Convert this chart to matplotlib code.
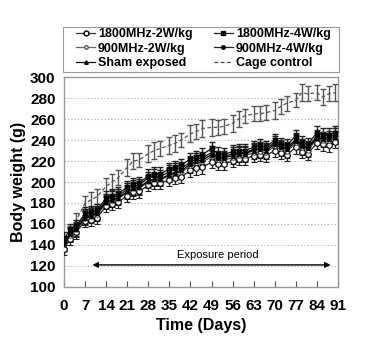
import matplotlib
matplotlib.use("Agg")
import matplotlib.pyplot as plt
from matplotlib.lines import Line2D
from matplotlib.patches import Rectangle

plt.rcParams['font.family'] = ['Liberation Sans', 'DejaVu Sans']

days = [0, 2, 4, 7, 9, 11, 14, 16, 18, 21, 23, 25, 28, 30, 32, 35, 37, 39, 42, 44,
        46, 49, 51, 53, 56, 58, 60, 63, 65, 67, 70, 72, 74, 77, 79, 81, 84, 86, 88, 90]

cage_control = [140, 152, 163, 180, 183, 186, 196, 200, 204, 214, 220, 221, 227, 230, 232, 235, 237, 240, 246, 248,
                251, 252, 252, 253, 256, 260, 263, 265, 265, 266, 268, 272, 275, 278, 285, 284, 285, 281, 284, 285]
cage_err = [6, 6, 7, 7, 7, 7, 8, 8, 7, 8, 8, 7, 8, 8, 7, 8, 8, 7, 8, 7,
            8, 8, 7, 7, 8, 8, 7, 7, 7, 7, 8, 7, 7, 7, 8, 7, 7, 8, 7, 8]

mhz1800_2w = [136, 146, 152, 163, 164, 166, 177, 179, 181, 187, 190, 191, 197, 199, 199, 202, 204, 205, 211, 213,
              214, 219, 217, 217, 220, 222, 222, 225, 226, 225, 230, 228, 226, 233, 229, 227, 237, 236, 235, 238]
mhz1800_4w = [146, 154, 158, 170, 171, 173, 185, 187, 189, 195, 198, 199, 206, 208, 208, 212, 214, 216, 222, 224,
              226, 232, 227, 226, 229, 230, 230, 233, 235, 233, 240, 236, 235, 244, 238, 236, 247, 245, 245, 247]
mhz900_2w = [140, 149, 154, 165, 167, 169, 180, 182, 184, 190, 193, 194, 200, 202, 202, 206, 208, 210, 215, 218,
             219, 224, 221, 221, 223, 225, 225, 228, 229, 228, 234, 231, 229, 237, 232, 230, 241, 239, 239, 242]
mhz900_4w = [143, 151, 156, 168, 169, 171, 183, 185, 187, 193, 196, 197, 204, 206, 205, 210, 212, 213, 219, 222,
             223, 228, 224, 224, 227, 228, 228, 231, 232, 231, 238, 234, 232, 241, 235, 233, 244, 242, 243, 245]
sham = [141, 150, 155, 166, 168, 170, 181, 183, 185, 191, 194, 195, 201, 203, 203, 207, 209, 211, 217, 220,
        221, 226, 223, 223, 225, 227, 227, 230, 231, 230, 236, 233, 231, 239, 234, 232, 242, 241, 241, 243]
group_err = 6

labels = ['1800MHz-2W/kg', '1800MHz-4W/kg', '900MHz-2W/kg', '900MHz-4W/kg', 'Sham exposed', 'Cage control']
xticks = [0, 7, 14, 21, 28, 35, 42, 49, 56, 63, 70, 77, 84, 91]
yticks = [100, 120, 140, 160, 180, 200, 220, 240, 260, 280, 300]

fig = plt.figure(figsize=(3.88, 3.47), dpi=100)
ax = fig.add_axes([0.165, 0.173, 0.706, 0.605])

ax.errorbar(days, cage_control, yerr=cage_err, color='#555555', ls=(0, (3, 2)), lw=0.9,
            ecolor='#555555', elinewidth=1.0, capsize=2.5, capthick=1.0, zorder=3)

styles = [
    (mhz1800_2w, dict(marker='o', ms=4, mfc='white', mec='black', mew=0.8, color='#222222')),
    (mhz1800_4w, dict(marker='s', ms=3.5, mfc='black', mec='black', color='#111111')),
    (mhz900_2w, dict(marker='o', ms=2.5, mfc='white', mec='#444444', mew=0.7, color='#444444')),
    (mhz900_4w, dict(marker='o', ms=2.5, mfc='black', mec='black', color='#111111')),
    (sham, dict(marker='^', ms=2.5, mfc='black', mec='black', color='#000000')),
]
for vals, st in styles:
    ax.errorbar(days, vals, yerr=group_err, lw=0.9, ecolor='#222222', elinewidth=1.0,
                capsize=2.5, capthick=1.0, zorder=4, **st)

ax.set_xlim(0, 91)
ax.set_ylim(100, 300)
ax.set_xticks(xticks)
ax.set_yticks(yticks)
ax.yaxis.grid(True, ls=(0, (1, 2)), color='#aaaaaa', lw=0.8)
ax.set_axisbelow(True)
ax.tick_params(axis='x', direction='in', length=4, color='#555555', pad=9)
ax.tick_params(axis='y', length=0, pad=6)
for lab in ax.get_xticklabels() + ax.get_yticklabels():
    lab.set_fontweight('bold')
    lab.set_fontsize(11)
for sp in ax.spines.values():
    sp.set_color('#999999')
    sp.set_linewidth(1.0)

ax.set_xlabel('Time (Days)', fontsize=11.5, fontweight='bold', labelpad=3)
ax.set_ylabel('Body weight (g)', fontsize=11.5, fontweight='bold', labelpad=3)

ax.annotate('', xy=(8.5, 121), xytext=(89.5, 121),
            arrowprops=dict(arrowstyle='<|-|>', color='black', lw=1.0, mutation_scale=8))
ax.text(51, 126, 'Exposure period', ha='center', va='bottom', fontsize=8)

handles = [
    Line2D([], [], color='#333333', lw=0.9, marker='o', ms=3.5, mfc='white', mec='black'),
    Line2D([], [], color='#222222', lw=0.9, marker='s', ms=3, mfc='black', mec='black'),
    Line2D([], [], color='#666666', lw=0.9, marker='o', ms=2.5, mfc='white', mec='#555555'),
    Line2D([], [], color='#222222', lw=0.9, marker='o', ms=2.5, mfc='black', mec='black'),
    Line2D([], [], color='#111111', lw=0.9, marker='^', ms=2.5, mfc='black', mec='black'),
    Line2D([], [], color='#444444', lw=0.9, ls=(0, (3, 2))),
]
order = [0, 2, 4, 1, 3, 5]
fig.patches.append(Rectangle((0.162, 0.7925), 0.711, 0.1297, transform=fig.transFigure,
                             fill=False, edgecolor='#999999', lw=0.8))
leg = fig.legend([handles[i] for i in order], [labels[i] for i in order], ncol=2,
                 loc='upper left', bbox_to_anchor=(75 / 388, 1 - 27 / 347),
                 prop={'weight': 'bold', 'size': 9}, frameon=False,
                 handlelength=1.5, handletextpad=0.25, labelspacing=0.2, borderpad=0.1,
                 columnspacing=1.7, borderaxespad=0)

fig.savefig('out.png', dpi=100)
